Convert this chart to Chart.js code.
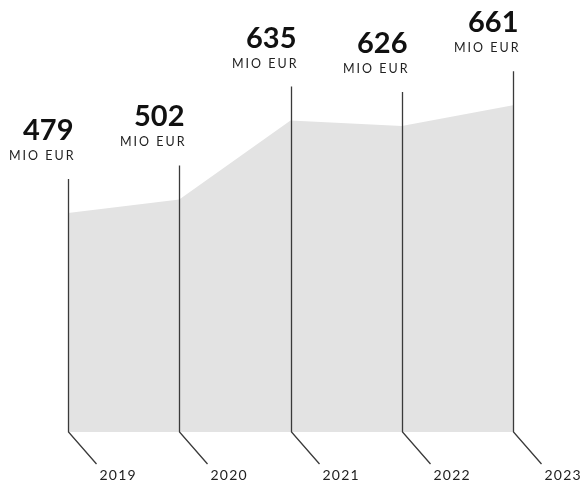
<!DOCTYPE html>
<html>
<head>
<meta charset="utf-8">
<script src="https://cdn.jsdelivr.net/npm/chart.js@4.4.1/dist/chart.umd.min.js"></script>
<style>
    html, body { margin: 0; padding: 0; background: #fff; }
    #grafico { display: block; }
</style>
</head>
<body>
<canvas id="grafico" width="581" height="482"></canvas>
<script>
var anios = ['2019', '2020', '2021', '2022', '2023'];
var umsatz = [479, 502, 635, 626, 661];
var einheit = 'MIO EUR';

// vertical marker lines, value labels and slanted year labels
var marcadores = {
    id: 'marcadores',
    afterDatasetsDraw: function (chart) {
        var ctx = chart.ctx;
        var xs = chart.scales.x;
        var ys = chart.scales.y;
        var fondo = chart.chartArea.bottom;
        ctx.save();
        for (var i = 0; i < umsatz.length; i++) {
            var x = Math.round(xs.getPixelForValue(i)) + 0.5;
            var y = ys.getPixelForValue(umsatz[i]);

            ctx.strokeStyle = '#3a3a3a';
            ctx.lineWidth = 1.3;
            ctx.beginPath();
            ctx.moveTo(x, y - 34);
            ctx.lineTo(x, fondo);
            ctx.lineTo(x + 28, fondo + 32);
            ctx.stroke();

            ctx.fillStyle = '#111';
            ctx.textAlign = 'right';
            ctx.textBaseline = 'alphabetic';
            ctx.letterSpacing = '0px';
            ctx.font = 'bold 29px Lato';
            ctx.fillText(String(umsatz[i]), x + 5, y - 73);

            ctx.font = '12.5px Lato';
            ctx.letterSpacing = '2px';
            ctx.fillStyle = '#222';
            ctx.fillText(einheit, x + 7, y - 53);

            ctx.textAlign = 'left';
            ctx.font = '14px Lato';
            ctx.letterSpacing = '1.2px';
            ctx.fillText(anios[i], x + 31, fondo + 48);
        }
        ctx.restore();
    }
};

function cargarGrafico() {
    var ctx = document.getElementById('grafico').getContext('2d');
    new Chart(ctx, {
        type: 'line',
        data: {
            labels: anios,
            datasets: [
                {
                    data: umsatz,
                    fill: 'start',
                    backgroundColor: '#e3e3e3',
                    borderWidth: 0,
                    pointRadius: 0,
                    tension: 0
                }
            ]
        },
        options: {
            responsive: false,
            animation: false,
            layout: { padding: { top: 82, bottom: 50, left: 68, right: 68 } },
            plugins: { legend: { display: false }, tooltip: { enabled: false } },
            scales: {
                x: { display: false, offset: false },
                y: { display: false, min: 110, max: 700 }
            }
        },
        plugins: [marcadores]
    });
}
cargarGrafico();
</script>
</body>
</html>
